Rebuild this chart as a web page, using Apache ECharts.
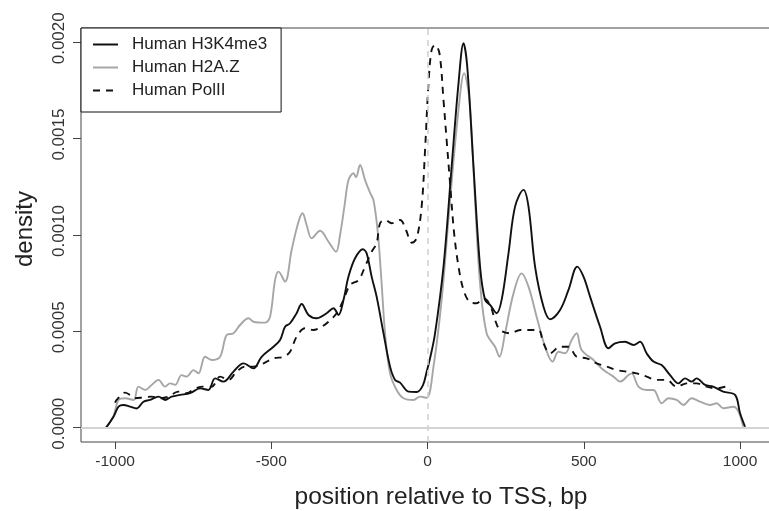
<!DOCTYPE html>
<html>
<head>
<meta charset="utf-8">
<script src="https://cdn.jsdelivr.net/npm/echarts@6/dist/echarts.min.js"></script>
<style>html,body{margin:0;padding:0;background:#fff}#c{width:769px;height:511px}</style>
</head>
<body>
<div id="c"></div>
<script>
// ---- data (position relative to TSS in bp, density) ----
var xTicks = [-1000, -500, 0, 500, 1000];
var yTicks = [0, 0.0005, 0.001, 0.0015, 0.002];
var seriesNames = ['Human H3K4me3', 'Human H2A.Z', 'Human PolII'];

var h3k4Pos = [-1029,-1005,-989,-973,-952,-931,-909,-888,-861,-840,-819,-792,-760,-728,-701,-680,-653,-621,-589,-557,-531,-493,-472,-456,-440,-419,-403,-381,-355,-323,-301,-285,-269,-253,-232,-207,-195,-179,-163,-141,-120,-104,-88,-61,-35,-15,-3,8,24,51,77,99,115,127,147,168,184,200,221,237,259,280,307,323,344,371,392,424,451,479,499,520,552,579,600,632,659,680,701,723,749,776,803,824,845,861,888,914,946,984,1000,1016];
var h3k4Val = [0,0.57e-4,1.09e-4,1.18e-4,1.09e-4,1.00e-4,1.35e-4,1.44e-4,1.61e-4,1.44e-4,1.61e-4,1.70e-4,1.79e-4,2.04e-4,1.96e-4,2.56e-4,2.39e-4,2.91e-4,3.34e-4,3.08e-4,3.68e-4,4.20e-4,4.55e-4,5.24e-4,5.42e-4,5.94e-4,6.42e-4,5.85e-4,5.68e-4,5.94e-4,6.20e-4,5.85e-4,6.63e-4,7.84e-4,8.79e-4,9.26e-4,9.05e-4,7.84e-4,6.80e-4,4.90e-4,3.17e-4,2.48e-4,2.34e-4,1.87e-4,1.85e-4,2.20e-4,2.90e-4,3.60e-4,4.90e-4,8.36e-4,13.54e-4,17.87e-4,19.95e-4,18.73e-4,13.54e-4,8.36e-4,6.63e-4,6.37e-4,5.94e-4,6.63e-4,9.05e-4,11.47e-4,12.34e-4,11.47e-4,8.36e-4,6.28e-4,5.63e-4,6.11e-4,7.15e-4,8.36e-4,7.84e-4,6.80e-4,5.24e-4,4.12e-4,4.38e-4,4.46e-4,4.29e-4,4.46e-4,3.86e-4,3.43e-4,3.25e-4,2.73e-4,2.30e-4,2.56e-4,2.39e-4,2.56e-4,2.22e-4,2.13e-4,1.87e-4,1.70e-4,0.75e-4,0.05e-4];

var h2azPos = [-1029,-1005,-989,-968,-941,-925,-904,-883,-861,-840,-824,-808,-787,-771,-749,-733,-712,-691,-664,-643,-621,-600,-573,-557,-520,-504,-488,-477,-456,-435,-413,-400,-387,-371,-344,-317,-293,-280,-265,-253,-237,-229,-216,-200,-184,-173,-159,-147,-136,-120,-99,-77,-45,-24,-3,19,45,72,99,117,134,152,168,189,216,230,248,275,301,323,349,376,400,419,440,461,477,493,531,563,595,616,643,653,675,701,723,749,771,797,819,845,872,904,925,946,979,995,1010];
var h2azVal = [0,0.6e-4,1.44e-4,1.53e-4,1.44e-4,2.13e-4,1.96e-4,2.22e-4,2.48e-4,2.13e-4,2.30e-4,2.22e-4,2.73e-4,2.65e-4,2.99e-4,2.82e-4,3.68e-4,3.51e-4,3.68e-4,4.81e-4,4.90e-4,5.33e-4,5.68e-4,5.50e-4,5.45e-4,5.76e-4,7.66e-4,8.10e-4,7.58e-4,9.22e-4,10.69e-4,11.13e-4,10.52e-4,9.83e-4,10.22e-4,9.65e-4,9.13e-4,10.0e-4,11.6e-4,12.85e-4,13.2e-4,13.0e-4,13.63e-4,12.85e-4,12.2e-4,11.8e-4,10.1e-4,7.49e-4,4.90e-4,2.82e-4,1.96e-4,1.53e-4,1.44e-4,1.61e-4,1.55e-4,3.17e-4,6.63e-4,11.8e-4,16.5e-4,18.4e-4,17.0e-4,11.8e-4,7.49e-4,4.90e-4,4.20e-4,3.68e-4,4.90e-4,6.97e-4,8.01e-4,7.32e-4,5.76e-4,4.20e-4,3.43e-4,3.94e-4,3.86e-4,4.55e-4,4.90e-4,4.03e-4,3.51e-4,2.99e-4,2.65e-4,2.39e-4,2.73e-4,2.82e-4,2.13e-4,1.96e-4,1.96e-4,1.27e-4,1.53e-4,1.44e-4,1.18e-4,1.53e-4,1.35e-4,1.18e-4,1.27e-4,1.01e-4,1.09e-4,0.83e-4,0.05e-4];

var polPos = [-1000,-995,-968,-952,-936,-909,-883,-856,-829,-798,-771,-744,-717,-691,-664,-637,-611,-584,-557,-525,-493,-461,-440,-419,-392,-366,-339,-317,-291,-269,-248,-221,-200,-179,-163,-152,-136,-115,-88,-69,-51,-35,-19,-8,3,13,24,38,51,61,72,85,99,115,134,157,179,200,216,232,264,296,328,355,371,392,424,451,477,509,541,573,605,637,669,701,733,765,797,829,861,893,925,957,968];
var polVal = [1.3e-4,1.44e-4,1.82e-4,1.70e-4,1.53e-4,1.57e-4,1.61e-4,1.53e-4,1.61e-4,1.87e-4,1.79e-4,2.04e-4,2.13e-4,2.13e-4,2.65e-4,2.48e-4,2.91e-4,3.17e-4,3.17e-4,3.34e-4,3.60e-4,3.68e-4,3.94e-4,4.72e-4,5.16e-4,5.07e-4,5.24e-4,5.50e-4,5.94e-4,6.63e-4,7.41e-4,7.66e-4,8.36e-4,9.13e-4,9.57e-4,10.61e-4,10.78e-4,10.61e-4,10.78e-4,10.26e-4,9.60e-4,9.83e-4,11.47e-4,14.41e-4,17.87e-4,19.6e-4,19.86e-4,19.43e-4,17.0e-4,14.93e-4,12.68e-4,10.09e-4,8.36e-4,7.15e-4,6.54e-4,6.46e-4,6.72e-4,6.37e-4,5.59e-4,5.07e-4,4.90e-4,5.07e-4,5.07e-4,5.07e-4,4.38e-4,3.86e-4,4.20e-4,4.20e-4,3.68e-4,3.60e-4,3.34e-4,3.17e-4,2.99e-4,2.91e-4,2.82e-4,2.65e-4,2.48e-4,2.48e-4,2.13e-4,2.30e-4,2.30e-4,2.13e-4,2.04e-4,2.13e-4,1.96e-4];

function pairs(xs, ys) { return xs.map(function (x, i) { return [x, ys[i]]; }); }

var FONT = "'Liberation Sans', Arial, Helvetica, sans-serif";
var chart = echarts.init(document.getElementById('c'), null, { renderer: 'canvas' });
chart.setOption({
  animation: false,
  backgroundColor: '#fff',
  grid: { left: 81, top: 28, width: 720, height: 414, outerBoundsMode: 'none', containLabel: false,
    show: true, borderColor: '#444', borderWidth: 1, backgroundColor: 'transparent' },
  xAxis: {
    type: 'value', min: -1109, max: 1195,
    name: 'position relative to TSS, bp', nameLocation: 'middle', nameGap: 43,
    nameTextStyle: { fontFamily: FONT, fontSize: 24.5, color: '#222' },
    axisLine: { show: false, onZero: false },
    splitLine: { show: false },
    axisTick: { show: true, inside: false, length: 7, customValues: xTicks, lineStyle: { color: '#444' } },
    axisLabel: { customValues: xTicks, margin: 12, fontFamily: FONT, fontSize: 15.5, color: '#333',
      formatter: function (v) { return String(v); } }
  },
  yAxis: {
    type: 'value', min: -0.0000742, max: 0.002074,
    name: 'density', nameLocation: 'middle', nameGap: 44, nameRotate: 90,
    nameTextStyle: { fontFamily: FONT, fontSize: 24, color: '#222', padding: [0, 0, 0, 12] },
    axisLine: { show: false, onZero: false },
    splitLine: { show: false },
    axisTick: { show: true, inside: false, length: 8, customValues: yTicks, lineStyle: { color: '#444' } },
    axisLabel: { customValues: yTicks, rotate: 90, margin: 13, fontFamily: FONT, fontSize: 17, color: '#333',
      padding: [0, 0, 0, 8],
      formatter: function (v) { return v.toFixed(4); } }
  },
  legend: {
    data: seriesNames, orient: 'vertical', left: 81, top: 28,
    backgroundColor: '#fff', borderColor: '#111', borderWidth: 1,
    padding: [8, 14, 13, 11], itemWidth: 25, itemHeight: 14, itemGap: 6,
    itemStyle: { opacity: 0 },
    textStyle: { fontFamily: FONT, fontSize: 17, color: '#222', padding: [0, 0, 0, 9] }
  },
  series: [
    { name: 'ref', type: 'line', data: [], silent: true,
      markLine: { silent: true, symbol: 'none', label: { show: false },
        data: [
          { yAxis: 0, lineStyle: { color: '#d4d4d4', width: 2, type: 'solid' } },
          { xAxis: 0, lineStyle: { color: '#cfcfcf', width: 1.5, type: [6, 5] } }
        ] } },
    { name: 'Human H2A.Z', type: 'line', data: pairs(h2azPos, h2azVal), showSymbol: false, symbol: 'none',
      smooth: 0.35, lineStyle: { color: '#a6a6a6', width: 1.9 }, itemStyle: { color: '#a6a6a6' } },
    { name: 'Human H3K4me3', type: 'line', data: pairs(h3k4Pos, h3k4Val), showSymbol: false, symbol: 'none',
      smooth: 0.35, lineStyle: { color: '#111', width: 1.9 }, itemStyle: { color: '#111' } },
    { name: 'Human PolII', type: 'line', data: pairs(polPos, polVal), showSymbol: false, symbol: 'none',
      smooth: 0.35, lineStyle: { color: '#111', width: 1.9, type: [7, 6] }, itemStyle: { color: '#111' } }
  ]
});
</script>
</body>
</html>
